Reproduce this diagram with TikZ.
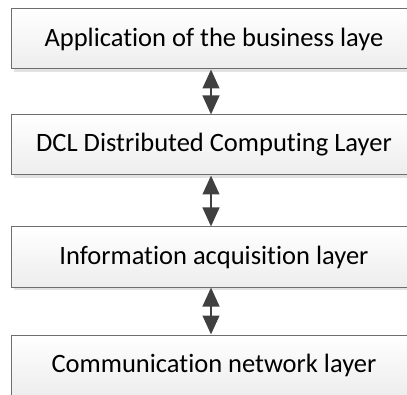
\documentclass[tikz,border=0pt]{standalone}
\usepackage{fontspec}
\setmainfont{Carlito}[Ligatures=NoCommon]
\usetikzlibrary{arrows.meta}
\definecolor{boxline}{HTML}{6E6E6E}
\definecolor{boxshadow}{HTML}{E2E2E2}
\definecolor{arrowcol}{HTML}{404040}
\tikzset{
  layer/.style={draw=boxline, line width=1pt, top color=white, bottom color=black!7,
    minimum width=406pt, minimum height=60pt, inner sep=0pt,
    font=\fontsize{26.5}{30}\selectfont, text=black},
  shadowbox/.style={fill=boxshadow, draw=none},
  link/.style={arrowcol, line width=2.8pt,
    {Triangle[length=19pt,width=16.5pt]}-{Triangle[length=19pt,width=16.5pt]}}
}
\begin{document}
\begin{tikzpicture}[x=1pt,y=1pt]
\useasboundingbox (0,0) rectangle (407,394);
\clip (0,0) rectangle (407,394);
% shadows
\fill[shadowbox] (14,322) rectangle (420,331);
\fill[shadowbox] (14,216) rectangle (420,225);
\fill[shadowbox] (14,104) rectangle (420,113);
\node[layer] (app) at (214,355) {Application of the business laye};
\node[layer] (dcl) at (214,249) {DCL Distributed Computing Layer};
\node[layer] (info) at (214,137) {Information acquisition layer};
\node[layer] (comm) at (214,29) {Communication network layer};
\draw[link] ([xshift=-3pt]app.south) -- ([xshift=-3pt]dcl.north);
\draw[link] ([xshift=-3pt]dcl.south) -- ([xshift=-3pt]info.north);
\draw[link] ([xshift=-3pt]info.south) -- ([xshift=-3pt]comm.north);
\end{tikzpicture}
\end{document}
